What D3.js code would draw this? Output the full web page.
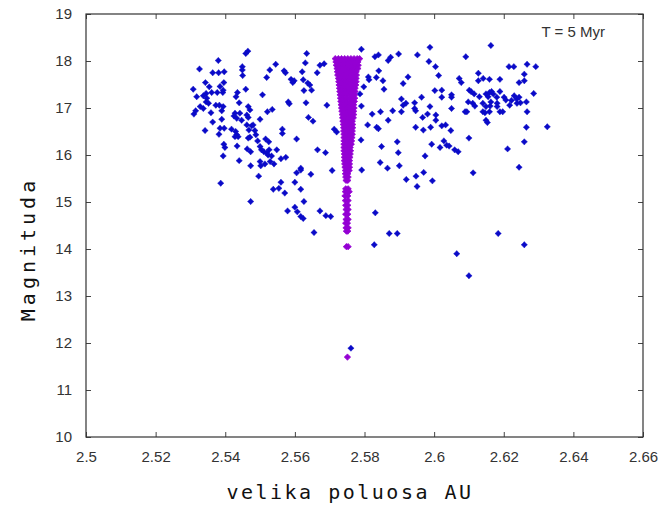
<!DOCTYPE html>
<html>
<head>
<meta charset="utf-8">
<script src="https://cdn.jsdelivr.net/npm/d3@7"></script>
<style>
  body { margin: 0; background: #fff; }
</style>
</head>
<body>
<div id="chart"></div>
<script>
// axis ticks
const xTicks = [2.5, 2.52, 2.54, 2.56, 2.58, 2.6, 2.62, 2.64, 2.66];
const xTickLabels = ["2.5", "2.52", "2.54", "2.56", "2.58", "2.6", "2.62", "2.64", "2.66"];
const yTicks = [10, 11, 12, 13, 14, 15, 16, 17, 18, 19];

// blue asteroids: [semi-major axis AU, magnitude]
const blueAsteroids = [
  [2.5459,18.16],[2.5465,18.21],[2.5634,18.16],[2.5380,18.01],[2.5326,17.83],[2.5449,17.88],[2.5449,17.81],
  [2.5545,17.93],[2.5528,17.81],[2.5569,17.79],[2.5573,17.75],[2.5630,17.96],[2.5672,17.91],[2.5684,17.94],
  [2.5664,17.75],[2.5364,17.75],[2.5381,17.75],[2.5397,17.77],[2.5621,17.77],[2.5519,17.65],[2.5450,17.69],
  [2.5343,17.54],[2.5385,17.46],[2.5396,17.54],[2.5589,17.61],[2.5598,17.58],[2.5594,17.54],[2.5624,17.60],
  [2.5637,17.53],[2.5643,17.49],[2.5648,17.38],[2.5626,17.37],[2.5308,17.40],[2.5354,17.45],[2.5361,17.33],
  [2.5345,17.31],[2.5318,17.24],[2.5337,17.26],[2.5347,17.21],[2.5345,17.13],[2.5352,17.10],[2.5377,17.33],
  [2.5393,17.33],[2.5394,17.38],[2.5459,17.40],[2.5435,17.33],[2.5431,17.24],[2.5507,17.28],[2.5581,17.13],
  [2.5584,17.09],[2.5632,17.11],[2.5692,17.06],[2.5328,17.03],[2.5315,16.94],[2.5310,16.87],[2.5337,16.99],
  [2.5373,17.06],[2.5383,17.06],[2.5394,17.03],[2.5390,16.94],[2.5440,17.11],[2.5466,17.03],[2.5471,16.96],
  [2.5535,16.97],[2.5521,16.92],[2.5359,16.90],[2.5428,16.89],[2.5425,16.83],[2.5433,16.78],[2.5442,16.89],
  [2.5462,16.85],[2.5466,16.80],[2.5447,16.74],[2.5462,16.64],[2.5500,16.76],[2.5639,16.80],[2.5652,16.72],
  [2.5390,16.76],[2.5364,16.70],[2.5480,16.64],[2.5476,16.62],[2.5385,16.57],[2.5397,16.57],[2.5418,16.55],
  [2.5430,16.50],[2.5433,16.43],[2.5437,16.39],[2.5428,16.39],[2.5468,16.53],[2.5485,16.52],[2.5488,16.43],
  [2.5471,16.38],[2.5466,16.36],[2.5564,16.55],[2.5564,16.46],[2.5342,16.52],[2.5382,16.44],[2.5605,16.34],
  [2.5713,16.55],[2.5720,16.49],[2.5516,16.34],[2.5525,16.28],[2.5493,16.30],[2.5500,16.18],[2.5504,16.11],
  [2.5511,16.07],[2.5519,16.04],[2.5526,16.11],[2.5523,16.00],[2.5533,15.98],[2.5396,16.23],[2.5399,16.16],
  [2.5434,16.19],[2.5463,16.13],[2.5473,16.07],[2.5548,16.11],[2.5665,16.11],[2.5688,16.05],[2.5394,15.98],
  [2.5440,15.88],[2.5473,15.77],[2.5502,15.77],[2.5560,15.92],[2.5574,15.95],[2.5617,15.72],[2.5500,15.86],
  [2.5514,15.81],[2.5529,15.86],[2.5540,15.81],[2.5496,15.55],[2.5387,15.40],[2.5605,15.62],[2.5617,15.68],
  [2.5646,15.59],[2.5707,15.67],[2.5560,15.42],[2.5554,15.29],[2.5538,15.27],[2.5571,15.19],[2.5600,15.42],
  [2.5617,15.27],[2.5473,15.01],[2.5626,15.01],[2.5579,14.81],[2.5600,14.89],[2.5607,14.79],[2.5617,14.69],
  [2.5624,14.65],[2.5672,14.81],[2.5689,14.71],[2.5703,14.69],[2.5655,14.35],[2.5792,15.68],[2.5845,15.84],
  [2.5866,15.72],[2.5900,15.77],[2.5831,14.77],[2.5871,14.33],[2.5894,14.33],[2.5828,14.09],[2.5948,15.55],
  [2.5970,15.63],[2.5920,15.48],[2.5951,15.33],[2.5995,15.45],[2.6112,15.62],[2.6244,15.74],[2.6184,14.33],
  [2.6259,14.09],[2.6065,13.90],[2.6100,13.43],[2.5791,18.25],[2.5830,18.09],[2.5840,18.13],[2.5868,18.01],
  [2.5875,18.08],[2.5898,18.15],[2.5952,18.13],[2.5841,17.79],[2.5811,17.66],[2.5813,17.60],[2.5798,17.45],
  [2.5834,17.65],[2.5853,17.58],[2.5856,17.40],[2.5925,17.66],[2.5911,17.52],[2.5787,17.30],[2.5791,17.04],
  [2.5906,17.19],[2.5911,17.06],[2.5906,16.92],[2.5919,17.10],[2.5944,17.11],[2.5947,16.94],[2.5822,16.87],
  [2.5846,16.92],[2.5881,16.94],[2.5868,16.74],[2.5809,16.64],[2.5835,16.59],[2.5840,16.56],[2.5947,16.59],
  [2.5790,16.32],[2.5849,16.18],[2.5894,16.28],[2.5897,16.05],[2.5988,18.29],[2.6163,18.33],[2.6091,18.09],
  [2.5985,17.99],[2.6004,17.88],[2.6215,17.88],[2.6229,17.88],[2.6267,17.93],[2.6292,17.88],[2.6013,17.69],
  [2.6072,17.63],[2.6078,17.54],[2.6127,17.74],[2.6141,17.63],[2.6127,17.58],[2.6159,17.61],[2.6189,17.61],
  [2.6259,17.72],[2.6259,17.58],[2.6244,17.54],[2.6002,17.37],[2.6022,17.38],[2.6022,17.23],[2.6050,17.28],
  [2.6050,17.23],[2.6101,17.38],[2.6106,17.35],[2.6115,17.30],[2.6098,17.13],[2.6111,17.10],[2.6130,17.24],
  [2.6149,17.30],[2.6159,17.33],[2.6165,17.35],[2.6170,17.30],[2.6155,17.24],[2.6180,17.23],[2.6189,17.35],
  [2.6181,17.10],[2.6163,17.13],[2.6140,17.10],[2.6149,17.03],[2.6161,17.04],[2.6117,17.04],[2.6140,16.92],
  [2.6146,16.90],[2.6159,16.92],[2.6189,16.92],[2.6197,16.92],[2.6181,17.03],[2.6201,17.23],[2.6206,17.17],
  [2.6222,17.16],[2.6230,17.26],[2.6237,17.19],[2.6244,17.23],[2.6248,17.11],[2.6238,17.10],[2.6217,17.06],
  [2.6265,17.13],[2.6286,17.31],[2.6267,16.92],[2.5944,16.99],[2.5964,17.23],[2.5988,17.03],[2.5981,16.87],
  [2.6005,16.85],[2.6005,16.74],[2.5967,16.80],[2.5969,16.53],[2.5990,16.59],[2.6022,16.62],[2.6033,16.64],
  [2.6048,16.52],[2.6050,16.99],[2.6089,16.92],[2.6094,16.92],[2.6149,16.74],[2.6153,16.69],[2.6265,16.59],
  [2.6325,16.60],[2.6100,16.36],[2.6028,16.30],[2.6036,16.21],[2.6017,16.16],[2.5993,16.23],[2.6043,16.19],
  [2.6059,16.11],[2.6069,16.07],[2.6259,16.28],[2.6211,16.13],[2.5974,15.98],[2.5761,11.89]
];

// violet family: one row per magnitude, with the semi-major axes in that row
const violetRows = [
  [18.05, [2.5716,2.5725,2.5734,2.5743,2.5752,2.5761,2.5770,2.5779,2.5786]],
  [17.98, [2.5718,2.5727,2.5736,2.5745,2.5754,2.5763,2.5772,2.5781]],
  [17.91, [2.5719,2.5728,2.5737,2.5746,2.5755,2.5764,2.5773,2.5782]],
  [17.84, [2.5721,2.5730,2.5739,2.5748,2.5757,2.5766,2.5775,2.5781]],
  [17.77, [2.5722,2.5731,2.5740,2.5749,2.5758,2.5767,2.5776]],
  [17.70, [2.5723,2.5732,2.5741,2.5750,2.5759,2.5768,2.5777]],
  [17.63, [2.5725,2.5733,2.5742,2.5751,2.5760,2.5769,2.5776]],
  [17.56, [2.5726,2.5735,2.5744,2.5753,2.5762,2.5770,2.5776]],
  [17.49, [2.5727,2.5736,2.5745,2.5754,2.5763,2.5771,2.5775]],
  [17.42, [2.5728,2.5737,2.5746,2.5755,2.5764,2.5773]],
  [17.35, [2.5729,2.5738,2.5747,2.5756,2.5765,2.5773]],
  [17.28, [2.5730,2.5739,2.5748,2.5757,2.5766,2.5772]],
  [17.21, [2.5731,2.5740,2.5749,2.5758,2.5767,2.5772]],
  [17.14, [2.5732,2.5741,2.5750,2.5759,2.5768,2.5771]],
  [17.07, [2.5733,2.5742,2.5751,2.5760,2.5769]],
  [17.00, [2.5734,2.5743,2.5752,2.5761,2.5770]],
  [16.93, [2.5735,2.5744,2.5753,2.5762,2.5769]],
  [16.86, [2.5736,2.5745,2.5754,2.5763,2.5769]],
  [16.79, [2.5737,2.5746,2.5755,2.5764,2.5768]],
  [16.72, [2.5738,2.5747,2.5756,2.5765]],
  [16.65, [2.5739,2.5748,2.5757,2.5766]],
  [16.58, [2.5740,2.5749,2.5758,2.5766]],
  [16.51, [2.5740,2.5749,2.5758,2.5765]],
  [16.44, [2.5741,2.5750,2.5759,2.5765]],
  [16.37, [2.5741,2.5750,2.5759,2.5764]],
  [16.30, [2.5741,2.5750,2.5759,2.5763]],
  [16.23, [2.5741,2.5750,2.5759,2.5762]],
  [16.16, [2.5741,2.5750,2.5759]],
  [16.09, [2.5741,2.5750,2.5760]],
  [16.02, [2.5742,2.5751,2.5759]],
  [15.95, [2.5742,2.5751,2.5758]],
  [15.88, [2.5742,2.5750,2.5757]],
  [15.81, [2.5743,2.5751,2.5757]],
  [15.74, [2.5744,2.5751,2.5757]],
  [15.67, [2.5745,2.5752,2.5756]],
  [15.60, [2.5745,2.5752]],
  [15.53, [2.5746,2.5753]],
  [15.46, [2.5747,2.5752]],
  [15.28, [2.5746,2.5753]],
  [15.22, [2.5745,2.5752,2.5756]],
  [15.13, [2.5744,2.5752]],
  [15.03, [2.5745,2.5753]],
  [14.93, [2.5746,2.5752]],
  [14.84, [2.5747,2.5753]],
  [14.74, [2.5746,2.5752]],
  [14.63, [2.5747,2.5753]],
  [14.55, [2.5746,2.5751]],
  [14.45, [2.5747,2.5753]],
  [14.38, [2.5748,2.5752]],
  [14.05, [2.5748,2.5753]],
  [11.70, [2.5751]]
];

const label = "T = 5 Myr";

const width = 669, height = 506;
const margin = { left: 86, right: 26, top: 14, bottom: 69 };

const svg = d3.select("#chart")
  .append("svg")
  .attr("width", width)
  .attr("height", height);

const x = d3.scaleLinear()
  .domain([2.5, 2.66])
  .range([margin.left, width - margin.right]);

const y = d3.scaleLinear()
  .domain([10, 19])
  .range([height - margin.bottom, margin.top]);

// AXES (ticks point inward on all four sides)
const tickFont = "'Liberation Sans', Arial, sans-serif";

const xAxis = svg.append("g")
  .attr("transform", `translate(0,${y(10)})`)
  .call(d3.axisBottom(x).tickValues(xTicks).tickSize(-5).tickPadding(14)
    .tickFormat((d, i) => xTickLabels[i]));

const yAxis = svg.append("g")
  .attr("transform", `translate(${x(2.5)},0)`)
  .call(d3.axisLeft(y).tickValues(yTicks).tickSize(-5).tickPadding(14));

const topAxis = svg.append("g")
  .attr("transform", `translate(0,${y(19)})`)
  .call(d3.axisTop(x).tickValues(xTicks).tickSize(-5).tickFormat(""));

const rightAxis = svg.append("g")
  .attr("transform", `translate(${x(2.66)},0)`)
  .call(d3.axisRight(y).tickValues(yTicks).tickSize(-5).tickFormat(""));

[xAxis, yAxis, topAxis, rightAxis].forEach(g => {
  g.select(".domain").remove();
  g.selectAll("line").attr("stroke", "#444");
  g.selectAll("text")
    .attr("font-family", tickFont)
    .attr("font-size", 15)
    .attr("fill", "#333");
});

svg.append("rect")
  .attr("x", x(2.5))
  .attr("y", y(19))
  .attr("width", x(2.66) - x(2.5))
  .attr("height", y(10) - y(19))
  .attr("fill", "none")
  .attr("stroke", "#333")
  .attr("stroke-width", 1.2);

// POINTS
const star = "M0,-3.2L1.5,-1.5L3.2,0L1.5,1.5L0,3.2L-1.5,1.5L-3.2,0L-1.5,-1.5Z";

svg.append("g")
  .selectAll("path")
  .data(blueAsteroids)
  .join("path")
  .attr("d", star)
  .attr("transform", d => `translate(${x(d[0])},${y(d[1])})`)
  .attr("fill", "#0a0ac8")
  .attr("stroke", "#0a0ac8")
  .attr("stroke-width", 0.4);

const violetPoints = violetRows.flatMap(r => r[1].map(a => [a, r[0]]));

svg.append("g")
  .selectAll("path")
  .data(violetPoints)
  .join("path")
  .attr("d", star)
  .attr("transform", d => `translate(${x(d[0])},${y(d[1])})`)
  .attr("fill", "#9400d3")
  .attr("stroke", "#9400d3")
  .attr("stroke-width", 0.8);

// LABELS
svg.append("text")
  .attr("x", 605)
  .attr("y", 36.5)
  .attr("text-anchor", "end")
  .attr("font-family", tickFont)
  .attr("font-size", 15)
  .attr("fill", "#333")
  .text(label);

const monoFont = "'DejaVu Sans Mono', 'Liberation Mono', monospace";

svg.append("text")
  .attr("x", 350)
  .attr("y", 499)
  .attr("text-anchor", "middle")
  .attr("font-family", monoFont)
  .attr("font-size", 20)
  .attr("letter-spacing", 2.5)
  .attr("fill", "#111")
  .text("velika poluosa AU");

svg.append("text")
  .attr("transform", "translate(35,249) rotate(-90)")
  .attr("text-anchor", "middle")
  .attr("font-family", monoFont)
  .attr("font-size", 20)
  .attr("letter-spacing", 4)
  .attr("fill", "#111")
  .text("Magnituda");
</script>
</body>
</html>
